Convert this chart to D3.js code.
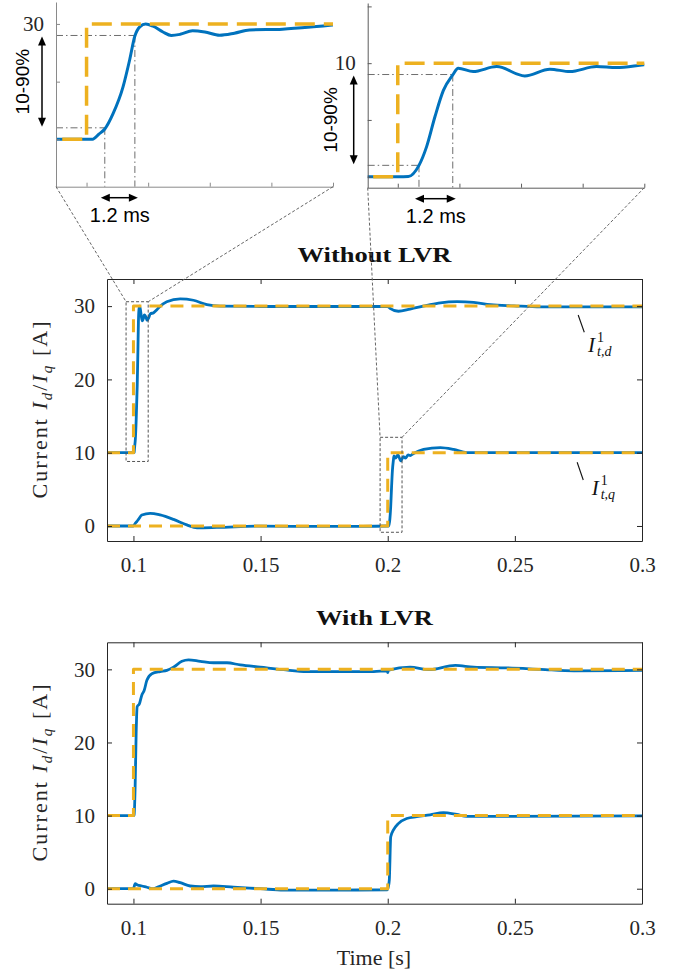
<!DOCTYPE html>
<html>
<head>
<meta charset="utf-8">
<script src="https://cdn.jsdelivr.net/npm/d3@7"></script>
<style>
  html, body { margin: 0; background: #fff; }
  svg { display: block; }
</style>
</head>
<body>
<svg id="fig" width="680" height="976"></svg>
<script>
// ---- Data: time [s], current [A] ----
const refD = [[0.0896, 10], [0.1, 10], [0.1, 30], [0.3, 30]];
const refQ = [[0.0896, 0], [0.2, 0], [0.2, 10], [0.3, 10]];

const idNoLvr = [
  [0.0896,10],[0.1,10],[0.1002,10],[0.10027,10.05],[0.1005,10.9],[0.10074,11.8],[0.10108,14.5],
  [0.10148,19.1],[0.10175,23.8],[0.10196,27.9],[0.10216,29.5],[0.1024,30],[0.1027,29.6],[0.1031,28.6],
  [0.10344,28.0],[0.1038,28.2],[0.1043,28.8],[0.1048,28.6],[0.1054,28.05],[0.106,28.4],[0.10661,28.95],
  [0.10795,29.1],[0.1092,29.5],[0.10997,29.8],[0.1131,30.6],[0.1184,31.0],[0.1236,30.8],[0.1289,30.2],
  [0.1341,30.0],[0.15,29.95],[0.17,29.95],[0.19,29.95],[0.2,29.95],[0.2009,29.7],[0.2042,29.3],
  [0.2088,29.6],[0.2154,30.1],[0.2207,30.45],[0.2273,30.6],[0.2338,30.5],[0.2404,30.2],[0.2496,30.04],
  [0.2601,29.9],[0.3,29.9]
];
const iqNoLvr = [
  [0.0896,0],[0.1,0],[0.1006,0.3],[0.1013,0.6],[0.10197,0.9],[0.1033,1.5],[0.10657,1.73],[0.1105,1.5],
  [0.11575,0.9],[0.121,0.15],[0.125,-0.25],[0.1328,-0.2],[0.15,-0.02],[0.17,-0.05],[0.19,-0.05],[0.2,0],
  [0.20043,0.02],[0.20086,1.0],[0.20117,2.65],[0.20151,5.3],[0.20185,7.6],[0.20223,8.97],[0.20245,9.56],
  [0.20306,9.26],[0.20401,9.7],[0.20515,8.88],[0.20617,9.47],[0.20698,9.26],[0.20806,9.7],[0.20887,9.61],
  [0.20998,9.85],[0.2141,10.45],[0.2207,10.7],[0.2259,10.45],[0.2312,10.0],[0.25,10],[0.3,10]
];
const idLvr = [
  [0.0896,10],[0.1,10],[0.10027,10.1],[0.10067,14],[0.10106,21.2],[0.10146,24.9],[0.10236,25.3],
  [0.10331,26.5],[0.10421,27.1],[0.10528,28.5],[0.10724,29.4],[0.11051,29.7],[0.11315,29.85],
  [0.11575,30.3],[0.11906,31.1],[0.12165,31.3],[0.12626,31.1],[0.1315,30.9],[0.13677,30.9],
  [0.14201,30.6],[0.1499,30.3],[0.15906,29.95],[0.16827,29.7],[0.18138,29.7],[0.1945,29.7],
  [0.1998,29.8],[0.2,29.55],[0.2003,29.9],[0.2088,30.3],[0.216,29.95],[0.2266,30.55],[0.2338,30.3],
  [0.247,30.2],[0.2601,30.0],[0.2732,29.8],[0.3,29.85]
];
const iqLvr = [
  [0.0896,0],[0.1,0],[0.10067,0.7],[0.10157,0.5],[0.1033,0.37],[0.10528,0.2],[0.10787,0.0],
  [0.10984,0.27],[0.11315,0.73],[0.11575,1.05],[0.11839,0.82],[0.12232,0.37],[0.12626,0.27],
  [0.1315,0.37],[0.13937,0.2],[0.1499,0],[0.15906,-0.18],[0.18138,-0.18],[0.1998,-0.15],[0.2002,0.2],
  [0.20063,1.2],[0.20118,7.1],[0.2022,8.0],[0.20417,8.9],[0.20748,9.6],[0.21142,9.85],[0.21665,10.1],
  [0.2219,10.4],[0.22717,10.15],[0.23111,9.9],[0.24028,9.9],[0.3,9.95]
];

// ---- Ticks ----
const xTicks = [0.1, 0.15, 0.2, 0.25, 0.3];
const xTickLabels = ["0.1", "0.15", "0.2", "0.25", "0.3"];
const yTicks = [0, 10, 20, 30];
const insetDxTicks = [0.1, 0.1025, 0.105, 0.1075, 0.11];
const insetDyTicks = [10, 20, 30];
const insetQxTicks = [0.2, 0.2025, 0.205, 0.2075, 0.21];
const insetQyTicks = [0, 5, 10, 15];

// ---- Rise-time annotations (10 % / 90 % levels and crossing times) ----
const riseD = { lo: 12, hi: 28, tLo: 0.10074, tHi: 0.10196, label: "1.2 ms" };
const riseQ = { lo: 1, hi: 9, tLo: 0.20086, tHi: 0.20223, label: "1.2 ms" };

// ---- Zoom windows marked in the upper panel ----
const zoomD = { t0: 0.0971, t1: 0.1058, v0: 8.8, v1: 30.6 };
const zoomQ = { t0: 0.1970, t1: 0.20563, v0: -0.86, v1: 12.1 };

const BLUE = "#0072BD", ORANGE = "#EDB120", AX = "#262626";
const SERIF = "'Liberation Serif', 'Times New Roman', serif";
const SANS = "'Liberation Sans', Arial, sans-serif";

const svg = d3.select("#fig");
const defs = svg.append("defs");

const xMain = d3.scaleLinear().domain([0.0896, 0.3]).range([107, 642]);

function styleAxis(g, color, size) {
  g.attr("font-family", SERIF).attr("font-size", size);
  g.selectAll("path.domain").attr("stroke", color).attr("stroke-width", 1);
  g.selectAll(".tick line").attr("stroke", color).attr("stroke-width", 1);
  g.selectAll(".tick text").attr("fill", AX);
}

let clipId = 0;
function addClip(x0, y0, w, h) {
  const id = "clip" + (clipId++);
  defs.append("clipPath").attr("id", id).append("rect")
    .attr("x", x0).attr("y", y0).attr("width", w).attr("height", h);
  return "url(#" + id + ")";
}

function drawSeries(g, x, y, blueSets, refSets, blueW, orangeW, dash) {
  const smooth = d3.line().x(d => x(d[0])).y(d => y(d[1])).curve(d3.curveMonotoneX);
  const straight = d3.line().x(d => x(d[0])).y(d => y(d[1]));
  blueSets.forEach(s => g.append("path").attr("d", smooth(s)).attr("fill", "none")
    .attr("stroke", BLUE).attr("stroke-width", blueW).attr("stroke-linejoin", "round"));
  refSets.forEach(s => g.append("path").attr("d", straight(s)).attr("fill", "none")
    .attr("stroke", ORANGE).attr("stroke-width", orangeW).attr("stroke-dasharray", dash)
    .attr("stroke-linejoin", "round"));
}

// ---- Main panels ----
const panels = [
  { title: "Without LVR", top: 279, bottom: 541, titleY: 261.7, titleLen: 154, id: idNoLvr, iq: iqNoLvr },
  { title: "With LVR", top: 642.3, bottom: 903.7, titleY: 625, titleLen: 117, id: idLvr, iq: iqLvr }
];

panels.forEach((p, i) => {
  const y = d3.scaleLinear().domain([-2.05, 33.7]).range([p.bottom, p.top]);
  p.y = y;
  const [xl, xr] = xMain.range();
  const g = svg.append("g");

  const plot = g.append("g").attr("clip-path", addClip(xl, p.top, xr - xl, p.bottom - p.top));
  drawSeries(plot, xMain, y, [p.id, p.iq], [refD, refQ], 2.8, 3, "13,8");

  const fmt = d => xTickLabels[xTicks.indexOf(d)];
  const gb = g.append("g").attr("transform", `translate(0,${p.bottom})`)
    .call(d3.axisBottom(xMain).tickValues(xTicks).tickFormat(fmt).tickSize(-5).tickSizeOuter(0).tickPadding(16));
  styleAxis(gb, AX, 21);
  const gt = g.append("g").attr("transform", `translate(0,${p.top})`)
    .call(d3.axisTop(xMain).tickValues(xTicks).tickFormat("").tickSize(-5).tickSizeOuter(0));
  styleAxis(gt, AX, 21);
  const gl = g.append("g").attr("transform", `translate(${xl},0)`)
    .call(d3.axisLeft(y).tickValues(yTicks).tickFormat(d3.format("d")).tickSize(-5).tickSizeOuter(0).tickPadding(12));
  styleAxis(gl, AX, 21);
  const gr = g.append("g").attr("transform", `translate(${xr},0)`)
    .call(d3.axisRight(y).tickValues(yTicks).tickFormat("").tickSize(-5).tickSizeOuter(0));
  styleAxis(gr, AX, 21);

  // Title
  g.append("text").attr("x", (xl + xr) / 2).attr("y", p.titleY)
    .attr("text-anchor", "middle").attr("font-family", SERIF).attr("font-weight", "bold")
    .attr("font-size", 22).attr("textLength", p.titleLen).attr("lengthAdjust", "spacingAndGlyphs")
    .attr("fill", "#111").text(p.title);

  // Y label: Current I_d / I_q [A]
  const yl = g.append("text")
    .attr("transform", `translate(47,${(p.top + p.bottom) / 2}) rotate(-90)`)
    .attr("text-anchor", "middle").attr("font-family", SERIF).attr("font-size", 22)
    .attr("fill", AX).attr("textLength", 177).attr("lengthAdjust", "spacing");
  yl.append("tspan").text("Current ");
  yl.append("tspan").attr("font-style", "italic").text("I");
  yl.append("tspan").attr("font-style", "italic").attr("font-size", 15).attr("dy", 5).text("d");
  yl.append("tspan").attr("dy", -5).text("/");
  yl.append("tspan").attr("font-style", "italic").text("I");
  yl.append("tspan").attr("font-style", "italic").attr("font-size", 15).attr("dy", 5).text("q");
  yl.append("tspan").attr("dy", -5).text(" [A]");
});

// X label
svg.append("text").attr("x", 374).attr("y", 965).attr("text-anchor", "middle")
  .attr("font-family", SERIF).attr("font-size", 22).attr("fill", AX).text("Time [s]");

// ---- Trace labels with leader lines (upper panel) ----
const yTop = panels[0].y;
const traceLabels = [
  { sub: "t,d", lead: [[0.2749, 28.79], [0.2773, 26.43]], at: [0.2788, 23.7] },
  { sub: "t,q", lead: [[0.2745, 8.69], [0.2769, 6.27]], at: [0.2802, 4.23] }
];
traceLabels.forEach(l => {
  svg.append("line")
    .attr("x1", xMain(l.lead[0][0])).attr("y1", yTop(l.lead[0][1]))
    .attr("x2", xMain(l.lead[1][0])).attr("y2", yTop(l.lead[1][1]))
    .attr("stroke", "#111").attr("stroke-width", 1.1);
  const t = svg.append("text").attr("x", xMain(l.at[0])).attr("y", yTop(l.at[1]))
    .attr("font-family", SERIF).attr("font-size", 21).attr("fill", "#111");
  t.append("tspan").attr("font-style", "italic").text("I");
  t.append("tspan").attr("font-size", 14).attr("dx", 2).attr("dy", -10).text("1");
  t.append("tspan").attr("font-size", 14).attr("font-style", "italic").attr("dx", -7).attr("dy", 14).text(l.sub);
});

// ---- Zoom boxes in the upper panel ----
const zoomBoxes = [zoomD, zoomQ].map(z => ({
  x0: xMain(z.t0), x1: xMain(z.t1), y0: yTop(z.v1), y1: yTop(z.v0)
}));
zoomBoxes.forEach(b => {
  svg.append("rect").attr("x", b.x0).attr("y", b.y0).attr("width", b.x1 - b.x0).attr("height", b.y1 - b.y0)
    .attr("fill", "none").attr("stroke", "#555").attr("stroke-width", 1).attr("stroke-dasharray", "3,2");
});

// ---- Insets ----
const insets = [
  { x: d3.scaleLinear().domain([0.09876, 0.11]).range([56, 333]),
    y: d3.scaleLinear().domain([1.8, 33.8]).range([186.7, 2]),
    xt: insetDxTicks, yt: insetDyTicks, shown: 30, blue: idNoLvr, ref: refD, rise: riseD,
    color: "#8a8a8a", box: zoomBoxes[0], textOff: 34 },
  { x: d3.scaleLinear().domain([0.19878, 0.21]).range([367.7, 644.3]),
    y: d3.scaleLinear().domain([-0.97, 15.3]).range([187.7, 3]),
    xt: insetQxTicks, yt: insetQyTicks, shown: 10, blue: iqNoLvr, ref: refQ, rise: riseQ,
    color: "#5c5c5c", box: zoomBoxes[1], textOff: 37 }
];

function arrowHead(g, tipX, tipY, dirX, dirY) {
  const L = 9, W = 4;
  const bx = tipX - dirX * L, by = tipY - dirY * L;
  const px = -dirY, py = dirX;
  g.append("path")
    .attr("d", `M${tipX},${tipY}L${bx + px * W},${by + py * W}L${bx - px * W},${by - py * W}Z`)
    .attr("fill", "#000");
}

insets.forEach(ins => {
  const { x, y, rise } = ins;
  const [xl, xr] = x.range();
  const [yb, yt] = y.range();
  const g = svg.append("g");

  // connector lines from the inset corners to the zoom box
  [[xl, ins.box.x0], [xr, ins.box.x1]].forEach(([a, b]) => {
    svg.append("line").attr("x1", a).attr("y1", yb).attr("x2", b).attr("y2", ins.box.y0)
      .attr("stroke", "#666").attr("stroke-width", 1).attr("stroke-dasharray", "3,2");
  });

  // 10 % / 90 % guide lines
  const dd = "7,3,1.5,3";
  const guide = (x1, y1, x2, y2) => g.append("line").attr("x1", x1).attr("y1", y1).attr("x2", x2).attr("y2", y2)
    .attr("stroke", "#6e6e6e").attr("stroke-width", 1).attr("stroke-dasharray", dd);
  guide(xl, y(rise.lo), x(rise.tLo), y(rise.lo));
  guide(xl, y(rise.hi), x(rise.tHi), y(rise.hi));
  guide(x(rise.tLo), y(rise.lo), x(rise.tLo), yb);
  guide(x(rise.tHi), y(rise.hi), x(rise.tHi), yb);

  const plot = g.append("g").attr("clip-path", addClip(xl, yt, xr - xl, yb - yt));
  drawSeries(plot, x, y, [ins.blue], [ins.ref], 3, 3.5, "20,9");

  const gb = g.append("g").attr("transform", `translate(0,${yb})`)
    .call(d3.axisBottom(x).tickValues(ins.xt).tickFormat("").tickSize(-4).tickSizeOuter(0));
  styleAxis(gb, ins.color, 21);
  const gl = g.append("g").attr("transform", `translate(${xl},0)`)
    .call(d3.axisLeft(y).tickValues(ins.yt).tickFormat(d => d === ins.shown ? String(d) : "")
      .tickSize(-4).tickSizeOuter(0).tickPadding(12));
  styleAxis(gl, ins.color, 21);

  // vertical 10-90 % arrow
  const ax = xl - 14;
  const ya = y(rise.hi) + 1, yc = y(rise.lo) - 1;
  g.append("line").attr("x1", ax).attr("y1", ya + 6).attr("x2", ax).attr("y2", yc - 6)
    .attr("stroke", "#000").attr("stroke-width", 1.5);
  arrowHead(g, ax, ya, 0, -1);
  arrowHead(g, ax, yc, 0, 1);
  g.append("text")
    .attr("transform", `translate(${xl - ins.textOff},${(ya + yc) / 2}) rotate(-90)`)
    .attr("text-anchor", "middle").attr("dominant-baseline", "central")
    .attr("font-family", SANS).attr("font-size", 19).attr("fill", "#000").text("10-90%");

  // horizontal rise-time arrow
  const hy = yb + 11;
  const h0 = x(rise.tLo) - 4, h1 = x(rise.tHi) + 3;
  g.append("line").attr("x1", h0 + 6).attr("y1", hy).attr("x2", h1 - 6).attr("y2", hy)
    .attr("stroke", "#000").attr("stroke-width", 1.5);
  arrowHead(g, h0, hy, -1, 0);
  arrowHead(g, h1, hy, 1, 0);
  g.append("text").attr("x", (x(rise.tLo) + x(rise.tHi)) / 2).attr("y", yb + 35)
    .attr("text-anchor", "middle").attr("font-family", SANS).attr("font-size", 20)
    .attr("fill", "#000").text(rise.label);
});
</script>
</body>
</html>
